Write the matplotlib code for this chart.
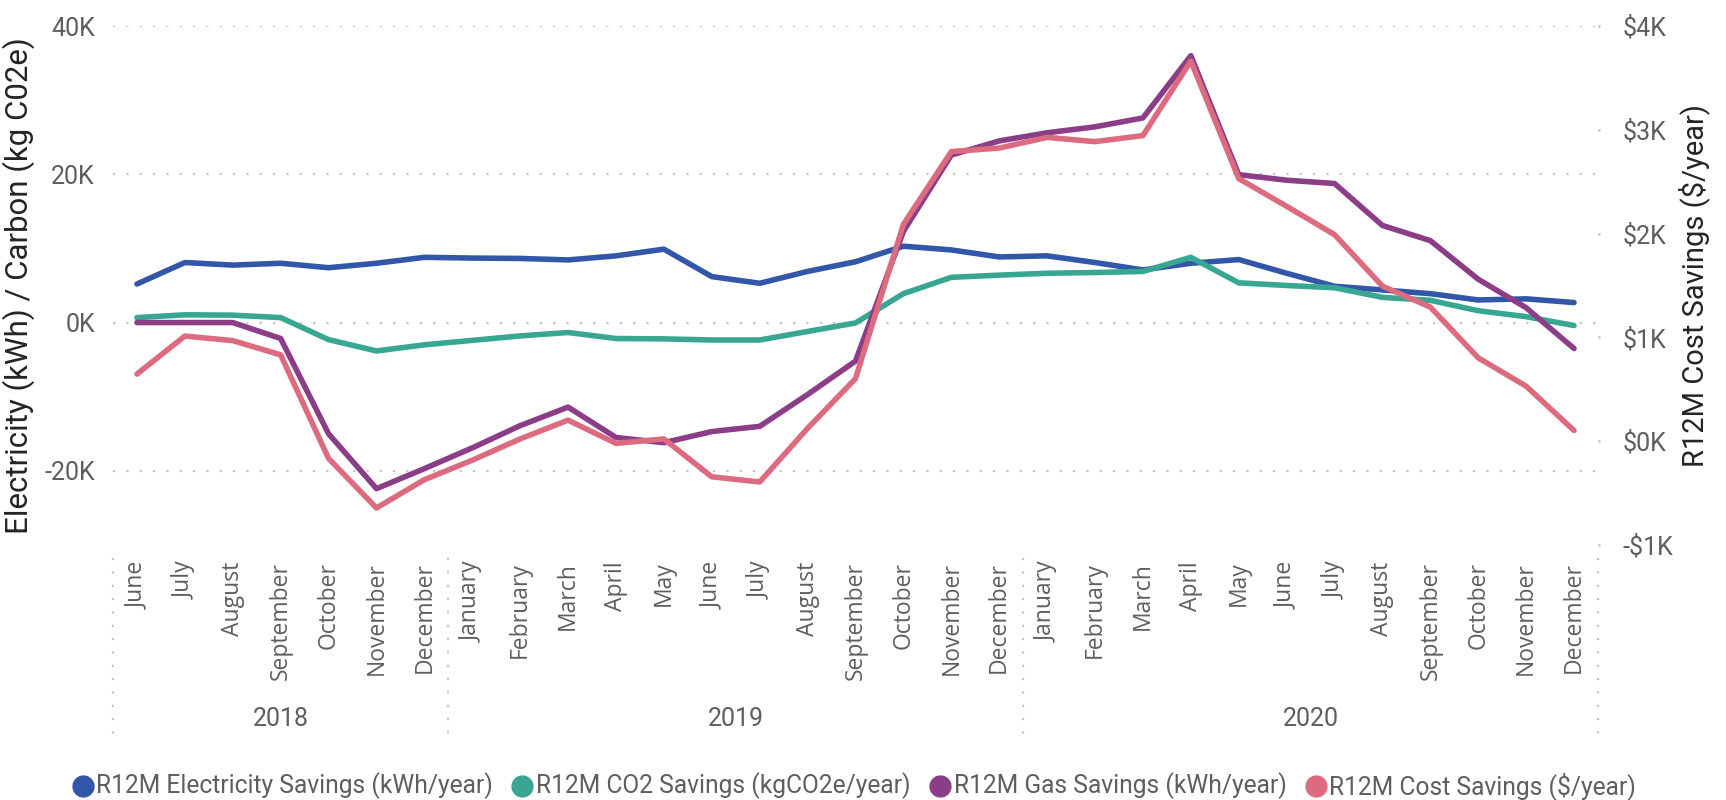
import matplotlib
matplotlib.use("Agg")
import matplotlib.pyplot as plt
import matplotlib.transforms as mtransforms
from matplotlib.lines import Line2D
from matplotlib.ticker import FuncFormatter, FixedLocator

# ---------------- data ----------------
months = ["June", "July", "August", "September", "October", "November", "December",
          "January", "February", "March", "April", "May", "June", "July", "August",
          "September", "October", "November", "December",
          "January", "February", "March", "April", "May", "June", "July", "August",
          "September", "October", "November", "December"]
years = ["2018", "2019", "2020"]
year_start_idx = [0, 7, 19]
year_end_idx = [6, 18, 30]

electricity = [5200, 8100, 7750, 8000, 7400, 8000, 8800, 8700, 8650, 8450,
               9000, 9900, 6200, 5300, 6900, 8200, 10300, 9800, 8850, 9000,
               8100, 7100, 8000, 8500, 6650, 4900, 4400, 3900, 3050, 3200, 2700]
co2 = [670, 1050, 1000, 670, -2300, -3830, -3000, -2400, -1800, -1340,
       -2150, -2200, -2350, -2350, -1200, -50, 3900, 6100, 6400, 6650,
       6750, 6900, 8800, 5360, 5000, 4700, 3400, 3000, 1600, 800, -400]
gas = [0, 0, 0, -2150, -15000, -22400, -19700, -16900, -13900, -11400,
       -15500, -16200, -14700, -14000, -9700, -5200, 12300, 22600, 24500, 25600,
       26400, 27600, 36000, 19950, 19200, 18760, 13100, 11050, 5840, 2000, -3500]
cost = [647, 1013, 969, 832, -166, -643, -371, -183, 22, 203,
        -21, 22, -343, -393, 124, 603, 2089, 2790, 2824, 2927,
        2886, 2944, 3662, 2530, 2263, 1990, 1494, 1292, 803, 530, 103]

left_ticks = [-20000, 0, 20000, 40000]
right_ticks = [-1000, 0, 1000, 2000, 3000, 4000]

series_names = ["R12M Electricity Savings (kWh/year)", "R12M CO2 Savings (kgCO2e/year)",
                "R12M Gas Savings (kWh/year)", "R12M Cost Savings ($/year)"]
colors = ["#3257A8", "#37A794", "#8B3D88", "#DD6B7F"]

# ---------------- styling ----------------
DIN = ["Roboto", "DejaVu Sans"]
SEGOE = ["Open Sans", "DejaVu Sans"]
tick_col = "#605E5C"
title_col = "#252423"
grid_col = "#C8C6C4"

W, H = 1726, 800
fig = plt.figure(figsize=(W / 100, H / 100), dpi=100)
ax_l, ax_r, ax_t, ax_b = 113, 1598, 26, 545
ax = fig.add_axes([ax_l / W, (H - ax_b) / H, (ax_r - ax_l) / W, (ax_b - ax_t) / H])
ax2 = ax.twinx()

x = list(range(len(months)))
lw = 4.0
kw = dict(lw=lw, solid_joinstyle="round", solid_capstyle="round")
ax.plot(x, electricity, color=colors[0], zorder=3, **kw)
ax.plot(x, co2, color=colors[1], zorder=4, **kw)
ax.plot(x, gas, color=colors[2], zorder=5, **kw)
ax2.plot(x, cost, color=colors[3], zorder=6, **kw)

ax.set_xlim(-0.5, 30.5)
ax.set_ylim(-30000, 40000)
ax2.set_ylim(-1000, 4000)

for a in (ax, ax2):
    for s in a.spines.values():
        s.set_visible(False)

# left axis
ax.yaxis.set_major_locator(FixedLocator(left_ticks))
ax.yaxis.set_major_formatter(FuncFormatter(lambda v, p: f"{int(v/1000)}K"))
ax.tick_params(axis="y", length=0, pad=13, labelsize=18, labelcolor=tick_col)
for lab in ax.get_yticklabels():
    lab.set_family(DIN)
for t in left_ticks:
    ax.axhline(t, color=grid_col, lw=1.6, linestyle=(0, (1, 5)), zorder=1)

# right axis
ax2.yaxis.set_major_locator(FixedLocator(right_ticks))
ax2.yaxis.set_major_formatter(FuncFormatter(
    lambda v, p: f"-${abs(int(v/1000))}K" if v < 0 else f"${int(v/1000)}K"))
ax2.tick_params(axis="y", length=1.5, width=2.2, color=grid_col, pad=16,
                labelsize=18, labelcolor=tick_col)
for lab in ax2.get_yticklabels():
    lab.set_family(DIN)

# x axis months
ax.set_xticks(x)
ax.set_xticklabels(months, rotation=90, fontsize=16.5, color=tick_col, family=SEGOE)
ax.tick_params(axis="x", length=0, pad=12)
for lab in ax.get_xticklabels():
    lab.set_verticalalignment("top")

# year separators and labels
trans = mtransforms.blended_transform_factory(ax.transData, ax.transAxes)
y_sep_top = (ax_b - 558) / (ax_b - ax_t)
y_sep_bot = (ax_b - 738) / (ax_b - ax_t)
seps = [year_start_idx[0] - 0.5] + [e + 0.5 for e in year_end_idx]
for sx in seps:
    ax.add_line(Line2D([sx, sx], [y_sep_top, y_sep_bot], transform=trans,
                       color=grid_col, lw=1.6, linestyle=(0, (1, 5)), clip_on=False))
y_year = (ax_b - 719) / (ax_b - ax_t)
for yr, s0, s1 in zip(years, year_start_idx, year_end_idx):
    ax.text((s0 + s1) / 2, y_year, yr, transform=trans, ha="center", va="center",
            fontsize=18, color=tick_col, family=DIN)

# axis titles
ax.set_ylabel("Electricity (kWh) / Carbon (kg C02e)", fontsize=22.5, color=title_col, family=DIN)
ax.yaxis.label.set_verticalalignment("center")
ax.yaxis.set_label_coords((19 - ax_l) / (ax_r - ax_l), 0.5)
ax2.set_ylabel("R12M Cost Savings ($/year)", fontsize=21, color=title_col, family=DIN,
               rotation=90)
ax2.yaxis.label.set_verticalalignment("center")
ax2.yaxis.set_label_coords((1694 - ax_l) / (ax_r - ax_l), 0.5)

# legend (circle + text, laid out left to right)
renderer = fig.canvas.get_renderer()
x_px = 72.0
y_px = 786.0
for name, c in zip(series_names, colors):
    fig.add_artist(Line2D([(x_px + 10.5) / W], [(H - y_px) / H], marker="o", markersize=15,
                          linestyle="none", markerfacecolor=c, markeredgecolor=c,
                          transform=fig.transFigure))
    t = fig.text((x_px + 24.0) / W, (H - y_px) / H, name, ha="left", va="center",
                 fontsize=17.7, color=tick_col, family=DIN)
    bb = t.get_window_extent(renderer)
    x_px = bb.x1 + 19

fig.savefig("out.png", dpi=100, facecolor="white")
